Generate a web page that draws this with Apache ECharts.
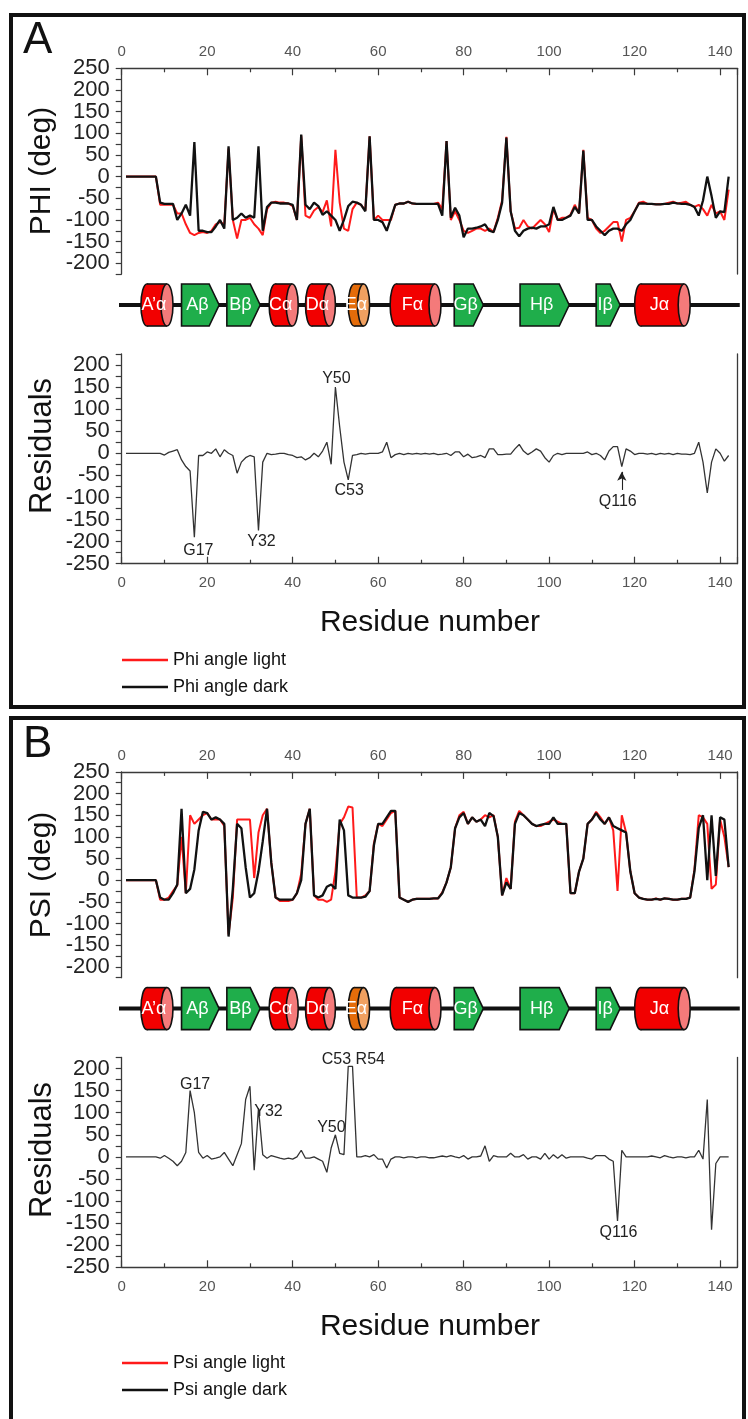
<!DOCTYPE html>
<html>
<head>
<meta charset="utf-8">
<script src="https://cdn.jsdelivr.net/npm/echarts@6/dist/echarts.min.js"></script>
<style>
  html, body { margin: 0; padding: 0; background: #fff; }
  #chart { width: 748px; height: 1419px; }
</style>
</head>
<body>
<div id="chart"></div>
<script>
// Backbone dihedral angles (deg) per residue, light and dark states, and their residuals.
const phiDark = [
  0, 0, 0, 0, 0, 0, 0, 0, -60, -63,
  -63, -63, -100, -85, -65, -90, 80, -125, -125, -128,
  -128, -115, -100, -120, 70, -100, -95, -85, -95, -90,
  -95, 70, -125, -70, -60, -60, -62, -62, -62, -65,
  -100, 97, -65, -75, -60, -68, -88, -80, -90, -100,
  -125, -100, -68, -58, -60, -65, -80, 93, -100, -100,
  -105, -125, -95, -65, -62, -62, -58, -62, -63, -63,
  -63, -63, -63, -63, -90, 82, -95, -72, -90, -140,
  -120, -120, -118, -115, -110, -125, -128, -100, -60, 90,
  -80, -125, -138, -125, -120, -118, -120, -115, -115, -110,
  -70, -100, -100, -95, -90, -70, -85, 60, -100, -100,
  -115, -125, -135, -125, -120, -120, -125, -110, -100, -80,
  -62, -62, -63, -63, -64, -64, -63, -63, -60, -62,
  -63, -63, -65, -70, -90, -55, 0, -45, -95, -80,
  -82, 0
];
const phiLight = [
  0, 0, 0, 0, 0, 0, 0, 0, -65, -65,
  -65, -65, -85, -85, -110, -130, -135, -130, -128, -130,
  -125, -110, -105, -110, 65, -100, -143, -100, -100, -95,
  -110, -120, -135, -75, -60, -58, -60, -60, -62, -68,
  -100, 95, -90, -95, -78, -70, -82, -55, -115, 62,
  -60, -120, -125, -75, -60, -65, -78, 93, -100, -90,
  -100, -100, -100, -65, -62, -62, -58, -62, -63, -63,
  -63, -63, -63, -60, -75, 82, -100, -80, -100, -125,
  -130, -125, -120, -120, -125, -120, -128, -95, -55, 92,
  -80, -120, -118, -100, -115, -120, -110, -100, -110, -128,
  -75, -100, -95, -95, -88, -65, -85, 62, -95, -100,
  -120, -130, -125, -115, -105, -105, -150, -100, -95, -80,
  -60, -58, -63, -63, -64, -64, -63, -60, -58, -62,
  -60, -58, -65, -70, -65, -75, -90, -65, -85, -80,
  -100, -30
];
const phiResidual = [
  0, 0, 0, 0, 0, 0, 0, 0, 0, -4,
  2, 5, 8, -15, -30, -40, -190, -5, -5, 3,
  0, 10, -8, 8, 0, -5, -45, -20, -10, -5,
  -8, -175, -20, 0, -3, -2, 0, 0, -3, -5,
  -10, -8, -15, -10, 0, -8, 5, 25, -25, 150,
  60, -20, -60, -5, -3, 0, -2, 0, 0, 0,
  3, 25, -10, -3, 0, -3, 0, -2, 0, -2,
  0, -2, 0, -3, -2, 0, -5, 3, 3, -8,
  -2, -10, -8, -5, -10, 10, 10, -3, -3, -2,
  -2, 10, 20, 5, -3, 3, 10, 5, -10, -20,
  -5, 0, -3, 0, 0, 0, 0, 0, 3, -3,
  0, -5, -15, 5, 15, 15, -30, 10, 5, -3,
  0, 0, -2, 0, -3, 0, -2, 0, -3, 0,
  -2, -2, -3, 0, 25, -20, -90, -20, 10, 0,
  -18, -5
];
const psiDark = [
  0, 0, 0, 0, 0, 0, 0, 0, -40, -45,
  -45, -30, -10, 165, -30, -20, 25, 115, 158, 155,
  140, 145, 140, 130, -130, -20, 130, 120, 30, -40,
  -30, 20, 90, 165, 40, -40, -45, -45, -45, -45,
  -30, 0, 130, 165, -35, -40, -35, -15, -10, -20,
  140, 115, -35, -40, -40, -40, -38, -25, 80, 130,
  130, 145, 160, 160, -40, -45, -50, -45, -43, -43,
  -43, -43, -42, -42, -30, -5, 30, 120, 145, 155,
  130, 145, 135, 140, 125, 155, 148, 100, -35, -5,
  -20, 130, 155, 150, 140, 130, 125, 128, 130, 130,
  145, 130, 130, 130, -30, -30, 20, 50, 130, 140,
  155, 140, 130, 145, 125, 120, 115, 110, 20, -30,
  -40, -43, -45, -45, -43, -45, -42, -43, -45, -45,
  -43, -43, -40, 20, 120, 150, 0, 150, 10, 145,
  140, 30
];
const psiLight = [
  0, 0, 0, 0, 0, 0, 0, 0, -45, -45,
  -40, -25, -12, 100, -30, 150, 130, 140, 150, 155,
  140, 140, 140, 125, -125, -40, 140, 140, 140, 140,
  5, 110, 150, 165, 40, -40, -48, -48, -48, -45,
  -30, 15, 130, 165, -35, -45, -45, -50, -45, 20,
  130, 145, 170, 168, -40, -40, -35, -25, 85, 130,
  125, 140, 155, 160, -40, -45, -50, -45, -43, -43,
  -43, -43, -42, -42, -28, -5, 30, 120, 150, 158,
  130, 145, 135, 140, 150, 145, 150, 100, -35, 5,
  -20, 135, 160, 150, 140, 130, 125, 125, 130, 135,
  140, 135, 130, 130, -30, -30, 20, 50, 130, 140,
  158, 145, 130, 145, 115, -25, 150, 110, 20, -30,
  -40, -43, -45, -45, -42, -45, -42, -43, -45, -45,
  -43, -43, -40, 25, 150, 145, 130, -20, -10, 140,
  100, 30
];
const psiResidual = [
  0, 0, 0, 0, 0, 0, 0, 0, -3, 3,
  -3, -10, -20, -10, 10, 150, 100, 10, -3, 3,
  -5, -3, 0, 10, -5, -20, 5, 30, 130, 160,
  -30, 110, 5, -3, 3, 0, -3, -5, -3, -5,
  0, 15, -3, -3, 0, -5, -10, -35, 20, 50,
  8, 5, 205, 205, 0, 0, 3, 0, 5, -5,
  -5, -25, -5, 0, 0, -2, 0, 0, -2, 0,
  0, -2, -2, 0, 2, 0, 3, 0, -2, 3,
  -5, 0, 0, 2, 25, -10, 3, 0, 0, 0,
  8, 0, 0, 5, -5, 0, 0, -5, 8, -5,
  5, -3, 5, -3, 0, 0, 0, 0, -3, -5,
  3, 3, 3, -5, -10, -145, 15, 0, 0, 0,
  0, 0, 0, 2, 0, -2, 3, 0, -2, 0,
  0, -2, 0, 0, 15, -5, 130, -165, -15, 0,
  0, 0
];

// Secondary structure elements (residue ranges).
const sseLabels = ['A\u2019\u03b1', 'A\u03b2', 'B\u03b2', 'C\u03b1', 'D\u03b1', 'E\u03b1', 'F\u03b1', 'G\u03b2', 'H\u03b2', 'I\u03b2', 'J\u03b1'];
const sseKinds  = ['helix', 'strand', 'strand', 'helix', 'helix', 'helixAlt', 'helix', 'strand', 'strand', 'strand', 'helix'];
const sseStart  = [4.5, 14, 24.6, 34.5, 43, 53, 62.8, 77.8, 93.2, 111, 120];
const sseEnd    = [12, 22.8, 32.4, 41.3, 50, 58, 74.7, 84.6, 104.7, 116.6, 133];

// Residues called out on the residual plots.
const phiTags = [[17, 'G17'], [32, 'Y32'], [50, 'Y50'], [53, 'C53'], [117, 'Q116']];
const psiTags = [[16, 'G17'], [32, 'Y32'], [50, 'Y50'], [53.5, 'C53 R54'], [116, 'Q116']];

const xTickLabels = [0, 20, 40, 60, 80, 100, 120, 140];

// ---------------------------------------------------------------------------
const residues = phiDark.map((_, i) => i + 1);
const pairs = arr => arr.map((v, i) => [residues[i], v]);
const valueAt = (arr, r) => {
  if (Number.isInteger(r)) return arr[r - 1];
  return Math.max(arr[Math.floor(r) - 1], arr[Math.ceil(r) - 1]);
};

const SANS = "'Liberation Sans', Arial, sans-serif";
const AXIS_COLOR = '#3a3a3a';
const X_MAX = 144;
const LEFT = 121.7, WIDTH = 615.5;
const OFFSET_B = 703.6;

const grids = [];
function addPanelGrids(dy) {
  grids.push({ left: LEFT, width: WIDTH, top: 68.3 + dy, height: 205.8 });   // angle
  grids.push({ left: LEFT, width: WIDTH, top: 280 + dy, height: 50 });       // structure
  grids.push({ left: LEFT, width: WIDTH, top: 353.9 + dy, height: 209.8 });  // residuals
}
addPanelGrids(0);
addPanelGrids(OFFSET_B);

const labelFmt20 = v => (xTickLabels.indexOf(v) >= 0 ? String(v) : '');
const labelFmt50 = v => (v % 50 === 0 ? String(v) : '');

function dataXAxis(gridIndex, position) {
  return {
    type: 'value', gridIndex, position, min: 0, max: X_MAX, interval: 20,
    axisLine: { show: true, onZero: false, lineStyle: { color: AXIS_COLOR, width: 1.3 } },
    axisTick: { show: true, inside: true, length: 7, lineStyle: { color: AXIS_COLOR, width: 1.2 } },
    minorTick: { show: true, splitNumber: 2, length: 4, lineStyle: { color: AXIS_COLOR, width: 1.2 } },
    axisLabel: { color: '#555', fontSize: 15, fontFamily: SANS, margin: position === 'top' ? 9 : 12, formatter: labelFmt20 },
    splitLine: { show: false }
  };
}
function hiddenXAxis(gridIndex) {
  return { type: 'value', gridIndex, min: 0, max: X_MAX, show: false };
}
function leftYAxis(gridIndex, min, max) {
  return {
    type: 'value', gridIndex, position: 'left', min, max, interval: 25,
    axisLine: { show: true, onZero: false, lineStyle: { color: AXIS_COLOR, width: 1.3 } },
    axisTick: { show: true, inside: false, length: 6, lineStyle: { color: AXIS_COLOR, width: 1.2 } },
    axisLabel: { color: '#222', fontSize: 22, fontFamily: SANS, margin: 12, formatter: labelFmt50 },
    splitLine: { show: false }
  };
}
function rightYAxis(gridIndex, min, max) {
  return {
    type: 'value', gridIndex, position: 'right', min, max,
    axisLine: { show: true, onZero: false, lineStyle: { color: AXIS_COLOR, width: 1.3 } },
    axisTick: { show: false }, axisLabel: { show: false }, splitLine: { show: false }
  };
}
function hiddenYAxis(gridIndex) {
  return { type: 'value', gridIndex, min: 0, max: 1, show: false };
}

const xAxes = [
  dataXAxis(0, 'top'), hiddenXAxis(1), dataXAxis(2, 'bottom'),
  dataXAxis(3, 'top'), hiddenXAxis(4), dataXAxis(5, 'bottom')
];
const yAxes = [
  leftYAxis(0, -225, 250), rightYAxis(0, -225, 250),
  hiddenYAxis(1),
  leftYAxis(2, -250, 225), rightYAxis(2, -250, 225),
  leftYAxis(3, -225, 250), rightYAxis(3, -225, 250),
  hiddenYAxis(4),
  leftYAxis(5, -250, 225), rightYAxis(5, -250, 225)
];

// Secondary-structure cartoon: cylinders for helices, arrows for strands.
const SSE_COLORS = {
  helix: { body: '#f20000', face: '#f47a7a' },
  helixAlt: { body: '#e46c0a', face: '#f0a060' },
  strand: { body: '#1fae4b' }
};
function renderSSE(params, api) {
  const i = params.dataIndex;
  const p1 = api.coord([api.value(0), 0.5]);
  const p2 = api.coord([api.value(1), 0.5]);
  const x1 = p1[0], x2 = p2[0], cy = p1[1];
  const h = 42, top = cy - h / 2, bot = cy + h / 2;
  const kind = sseKinds[i];
  const stroke = '#111', lw = 1.6;
  const children = [];
  let textX;
  if (kind === 'strand') {
    const tip = 10;
    children.push({
      type: 'polygon',
      shape: { points: [[x1, top], [x2 - tip, top], [x2, cy], [x2 - tip, bot], [x1, bot]] },
      style: { fill: SSE_COLORS.strand.body, stroke, lineWidth: lw }
    });
    textX = (x1 + x2 - tip * 0.6) / 2;
  } else {
    const c = SSE_COLORS[kind];
    const rx = 6;
    children.push({ type: 'ellipse', shape: { cx: x1 + rx, cy, rx, ry: h / 2 }, style: { fill: c.body, stroke, lineWidth: lw } });
    children.push({ type: 'rect', shape: { x: x1 + rx, y: top, width: x2 - x1 - 2 * rx, height: h }, style: { fill: c.body } });
    children.push({ type: 'line', shape: { x1: x1 + rx, y1: top, x2: x2 - rx, y2: top }, style: { stroke, lineWidth: lw } });
    children.push({ type: 'line', shape: { x1: x1 + rx, y1: bot, x2: x2 - rx, y2: bot }, style: { stroke, lineWidth: lw } });
    children.push({ type: 'ellipse', shape: { cx: x2 - rx, cy, rx, ry: h / 2 }, style: { fill: c.face, stroke, lineWidth: lw } });
    textX = (x1 + x2 - rx) / 2;
  }
  children.push({
    type: 'text', x: textX, y: cy,
    style: { text: sseLabels[i], fill: '#fff', fontSize: 18, fontFamily: SANS, align: 'center', verticalAlign: 'middle' }
  });
  return { type: 'group', children };
}
const sseData = sseStart.map((s, i) => [s, sseEnd[i], 0.5]);

function structureSeries(xIdx, yIdx) {
  return [
    {
      type: 'line', xAxisIndex: xIdx, yAxisIndex: yIdx, clip: false, silent: true,
      symbol: 'none', data: [[-0.9, 0.5], [X_MAX + 0.6, 0.5]],
      lineStyle: { color: '#111', width: 4 }, z: 2
    },
    {
      type: 'custom', xAxisIndex: xIdx, yAxisIndex: yIdx, clip: false, silent: true,
      renderItem: renderSSE, encode: { x: [0, 1], y: 2 }, data: sseData, z: 3
    }
  ];
}

// Tag placement on the residual plots: [position, distance, dx, dy]
const phiTagPlace = {
  'G17': ['bottom', 5, 4, 0], 'Y32': ['bottom', 3, 3, 0], 'Y50': ['top', 0, 1, 0],
  'C53': ['bottom', 2, 1, 0], 'Q116': ['bottom', 3, -4, 0]
};
const psiTagPlace = {
  'G17': ['top', 0, 5, 2], 'Y32': ['top', 0, 10, 12], 'Y50': ['top', 0, -4, 1],
  'C53 R54': ['top', 0, 3, 2], 'Q116': ['bottom', 3, 1, 0]
};
const tagLabel = (text, place) => ({
  show: true, formatter: text, position: place[0], distance: place[1], offset: [place[2], place[3]],
  color: '#222', fontSize: 16, fontFamily: SANS
});

const phiMarks = phiTags.map(([r, text]) => {
  let v = valueAt(phiResidual, r);
  if (text === 'Q116') v -= 53;   // label sits under the pointer arrow
  return { coord: [r, v], label: tagLabel(text, phiTagPlace[text]) };
});
const psiMarks = psiTags.map(([r, text]) => ({
  coord: [r, valueAt(psiResidual, r)], label: tagLabel(text, psiTagPlace[text])
}));
const q116 = phiTags.find(t => t[1] === 'Q116')[0];
const q116Val = valueAt(phiResidual, q116);

function residualSeries(name, data, xIdx, yIdx, marks, arrow) {
  const s = {
    name, type: 'line', xAxisIndex: xIdx, yAxisIndex: yIdx, symbol: 'none',
    data: pairs(data), lineStyle: { color: '#333', width: 1.3 }, z: 3,
    markPoint: {
      silent: true, symbol: 'circle', symbolSize: 1, itemStyle: { color: 'rgba(0,0,0,0)' },
      data: marks
    }
  };
  if (arrow) {
    s.markLine = {
      silent: true, symbol: ['arrow', 'none'], symbolSize: [7, 9],
      lineStyle: { color: '#222', width: 1.1, type: 'solid' }, label: { show: false },
      data: [[{ coord: [q116, q116Val - 12] }, { coord: [q116, q116Val - 53] }]]
    };
  }
  return s;
}

const series = [
  { name: 'Phi angle light', type: 'line', xAxisIndex: 0, yAxisIndex: 0, symbol: 'none', data: pairs(phiLight),
    lineStyle: { color: '#ff1a1a', width: 2 }, itemStyle: { color: '#ff1a1a' }, z: 3 },
  { name: 'Phi angle dark', type: 'line', xAxisIndex: 0, yAxisIndex: 0, symbol: 'none', data: pairs(phiDark),
    lineStyle: { color: '#111', width: 2.3 }, itemStyle: { color: '#111' }, z: 4 },
  ...structureSeries(1, 2),
  residualSeries('Phi residuals', phiResidual, 2, 3, phiMarks, true),
  { name: 'Psi angle light', type: 'line', xAxisIndex: 3, yAxisIndex: 5, symbol: 'none', data: pairs(psiLight),
    lineStyle: { color: '#ff1a1a', width: 2 }, itemStyle: { color: '#ff1a1a' }, z: 3 },
  { name: 'Psi angle dark', type: 'line', xAxisIndex: 3, yAxisIndex: 5, symbol: 'none', data: pairs(psiDark),
    lineStyle: { color: '#111', width: 2.3 }, itemStyle: { color: '#111' }, z: 4 },
  ...structureSeries(4, 7),
  residualSeries('Psi residuals', psiResidual, 5, 8, psiMarks, false)
];

function legendAt(top, names) {
  return {
    orient: 'vertical', left: 117, top, data: names, icon: 'rect', itemWidth: 46, itemHeight: 2.5,
    itemGap: 7, selectedMode: false,
    textStyle: { color: '#111', fontSize: 18, fontFamily: SANS, lineHeight: 20, padding: [0, 0, 0, 0] }
  };
}

function vText(text, x, y, size) {
  return {
    type: 'text', x, y, rotation: Math.PI / 2, silent: true,
    style: { text, fill: '#111', fontSize: size, fontFamily: SANS, align: 'center', verticalAlign: 'middle' }
  };
}
function hText(text, x, y, size, align) {
  return {
    type: 'text', x, y, silent: true,
    style: { text, fill: '#111', fontSize: size, fontFamily: SANS, align: align || 'center', verticalAlign: 'middle' }
  };
}

const graphics = [
  { type: 'rect', shape: { x: 11, y: 15, width: 733, height: 692 }, style: { fill: 'none', stroke: '#111', lineWidth: 4 }, silent: true },
  { type: 'rect', shape: { x: 11, y: 718, width: 733, height: 720 }, style: { fill: 'none', stroke: '#111', lineWidth: 4 }, silent: true },
  hText('A', 23, 41, 44, 'left'),
  hText('B', 23, 745, 44, 'left'),
  vText('PHI (deg)', 42, 171, 30),
  vText('Residuals', 42, 446, 31),
  vText('PSI (deg)', 42, 875, 30),
  vText('Residuals', 42, 1150, 31),
  hText('Residue number', 430, 623, 30),
  hText('Residue number', 430, 1327, 30)
];

const chart = echarts.init(document.getElementById('chart'), null, { renderer: 'canvas' });
chart.setOption({
  animation: false,
  backgroundColor: '#fff',
  grid: grids,
  xAxis: xAxes,
  yAxis: yAxes,
  legend: [
    legendAt(645, ['Phi angle light', 'Phi angle dark']),
    legendAt(1348, ['Psi angle light', 'Psi angle dark'])
  ],
  series,
  graphic: graphics
});
</script>
</body>
</html>
